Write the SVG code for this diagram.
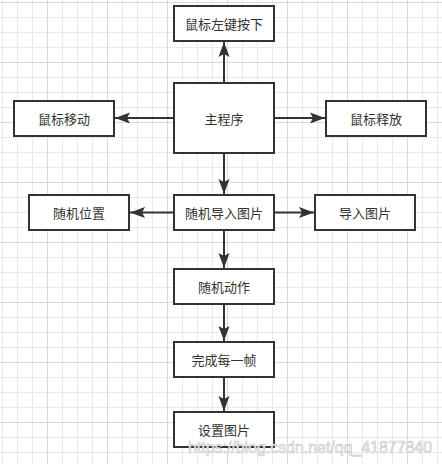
<svg xmlns="http://www.w3.org/2000/svg" width="442" height="464" viewBox="0 0 442 464">
<defs>
<pattern id="grid" patternUnits="userSpaceOnUse" x="47" y="62" width="60" height="60">
<path d="M15.5 0V60M30.5 0V60M45.5 0V60M0 15.5H60M0 30.5H60M0 45.5H60" stroke="#e9e9e9" stroke-width="1" fill="none"/>
<path d="M0.5 0V60M0 0.5H60" stroke="#d9d9d9" stroke-width="1" fill="none"/>
</pattern>
<marker id="arr" markerUnits="userSpaceOnUse" markerWidth="16" markerHeight="12" refX="15" refY="5.5" orient="auto" viewBox="0 0 16 11">
<path d="M0,0 L15,5.5 L0,11 L3,5.5 Z" fill="#333"/>
</marker>
</defs>
<style>
.box{fill:#fff;stroke:#333;stroke-width:2}
.lbl{font-family:"Noto Sans CJK SC","Liberation Sans",sans-serif;font-size:13px;fill:#333;text-anchor:middle;dominant-baseline:central}
.edge{stroke:#333;stroke-width:2;fill:none;marker-end:url(#arr)}
.wm{font-family:"Liberation Sans",Arial,sans-serif;font-size:16px;fill:#fafafa;stroke:#c4c4c4;stroke-width:0.6}
</style>
<rect width="442" height="464" fill="#fff"/>
<rect width="442" height="464" fill="url(#grid)"/>
<g id="connectors">
<path class="edge" d="M224 83V42"/>
<path class="edge" d="M174 118H115"/>
<path class="edge" d="M274 118H325"/>
<path class="edge" d="M224 153V194"/>
<path class="edge" d="M174 212.5H130"/>
<path class="edge" d="M274 212.5H314"/>
<path class="edge" d="M224 230V268"/>
<path class="edge" d="M224 304V341"/>
<path class="edge" d="M224 377V411"/>
</g>
<g id="n-leftdown"><rect class="box" x="174" y="6" width="100" height="35"/><text class="lbl" x="224" y="23.5">鼠标左键按下</text></g>
<g id="n-main"><rect class="box" x="174" y="83" width="100" height="70"/><text class="lbl" x="224" y="118">主程序</text></g>
<g id="n-move"><rect class="box" x="14" y="101" width="100" height="35"/><text class="lbl" x="64" y="118.5">鼠标移动</text></g>
<g id="n-release"><rect class="box" x="326" y="101" width="100" height="35"/><text class="lbl" x="376" y="118.5">鼠标释放</text></g>
<g id="n-randimport"><rect class="box" x="174" y="195" width="100" height="35"/><text class="lbl" x="224" y="212.5">随机导入图片</text></g>
<g id="n-randpos"><rect class="box" x="29" y="195" width="100" height="35"/><text class="lbl" x="79" y="212.5">随机位置</text></g>
<g id="n-import"><rect class="box" x="315" y="195" width="100" height="35"/><text class="lbl" x="365" y="212.5">导入图片</text></g>
<g id="n-randact"><rect class="box" x="174" y="269" width="100" height="35"/><text class="lbl" x="224" y="286.5">随机动作</text></g>
<g id="n-frame"><rect class="box" x="174" y="342" width="100" height="35"/><text class="lbl" x="224" y="359.5">完成每一帧</text></g>
<g id="n-setimg"><rect class="box" x="174" y="412" width="100" height="35"/><text class="lbl" x="224" y="429.5">设置图片</text></g>
<text class="wm" x="188" y="453" textLength="244" lengthAdjust="spacingAndGlyphs">https://blog.csdn.net/qq_41877840</text>
</svg>
